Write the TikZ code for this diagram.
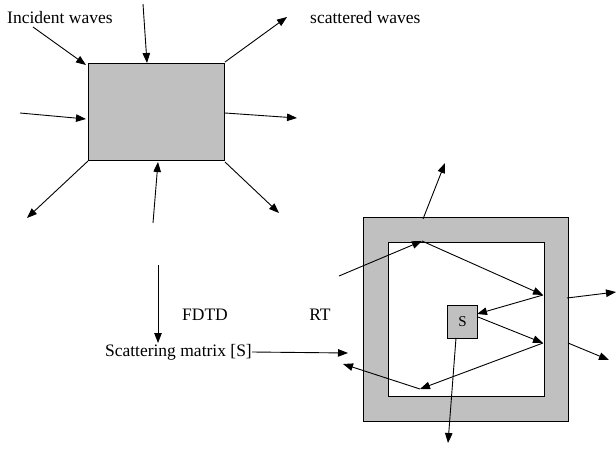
\documentclass[tikz,border=0pt]{standalone}
\usepackage{fontspec}
\setmainfont{Liberation Serif}
\usetikzlibrary{arrows.meta}
\definecolor{boxgray}{HTML}{C0C0C0}
\tikzset{
  arr/.style={line width=0.9pt,-{Triangle[length=10pt,width=7.5pt]}},
  lbl/.style={font=\fontsize{17.5}{20}\selectfont,inner sep=0pt},
  graybox/.style={draw,line width=0.9pt,fill=boxgray}
}
\begin{document}
\begin{tikzpicture}[x=1pt,y=-1pt]
\useasboundingbox[fill=white] (0,0) rectangle (616,452);
% top scatterer
\draw[graybox] (88,63) rectangle (224,160);
\node[lbl,anchor=west] (inc) at (7,18) {Incident waves};
\node[lbl,anchor=west] (sca) at (310,18) {scattered waves};
\draw[arr] (33,27) -- (86,65);
\draw[arr] (143,4) -- (147,63);
\draw[arr] (225,62) -- (287,17);
\draw[arr] (20,113) -- (86,119);
\draw[arr] (225,113) -- (297,118);
\draw[arr] (88,161) -- (27,218);
\draw[arr] (153,223) -- (158,162);
\draw[arr] (225,162) -- (279,213);
% middle
\draw[arr] (158,265) -- (158,343);
\node[lbl] (fdtd) at (205,315) {FDTD};
\node[lbl] (rt) at (320,315) {RT};
\node[lbl,anchor=east] (sm) at (252,352) {Scattering matrix [S]};
\draw[arr] (sm.east) -- (348,353);
% room
\draw[graybox] (363,217) rectangle (568,421);
\draw[line width=0.9pt,fill=white] (388,242) rectangle (544,396);
\node[graybox,minimum width=30pt,minimum height=33pt,inner sep=0pt,anchor=north west,font=\fontsize{15}{17}\selectfont] (s) at (447,305) {S};
\coordinate (p1) at (422,241);
\coordinate (p2) at (543,295);
\coordinate (p3) at (543,343);
\coordinate (p4) at (420,389);
\draw[arr] (423,219) -- (445,163);
\draw[arr] (339,276) -- (p1);
\draw[arr] (p1) -- (p2);
\draw[arr] (p2) -- (477,314);
\draw[arr] (478,317) -- (p3);
\draw[arr] (p3) -- (p4);
\draw[arr] (p4) -- (343,364);
\draw[arr] (567,298) -- (616,292);
\draw[arr] (568,343) -- (609,360);
\draw[arr] (456,338) -- (448,443);
\end{tikzpicture}
\end{document}
